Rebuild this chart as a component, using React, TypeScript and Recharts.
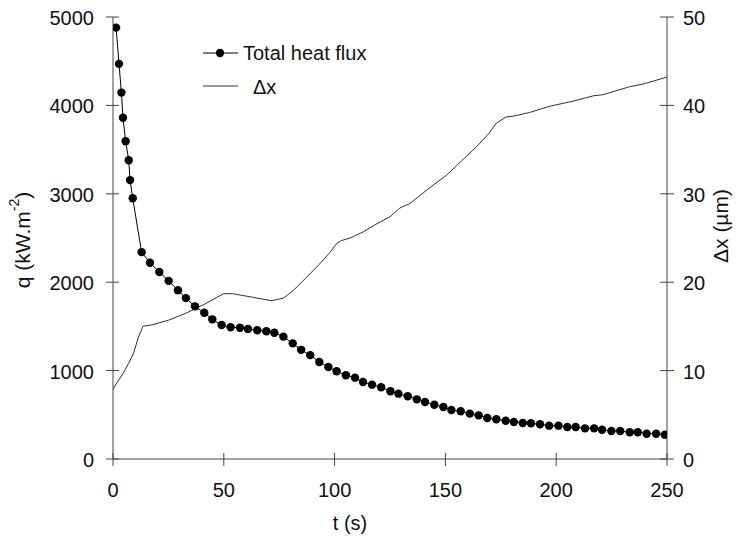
import React from 'react';
import { LineChart, Line, XAxis, YAxis } from 'recharts';

// Total heat flux (t in s, q in kW.m-2)
const fluxT = [1.4, 2.7, 3.8, 4.5, 5.7, 7.1, 7.7, 8.9, 12.9, 16.7, 20.9, 25.1, 29.3, 32.9, 37.0, 41.2, 44.8, 49.0, 53.1, 57.3, 60.9, 65.1, 69.2, 72.8, 76.9, 81.1, 84.9, 89.0, 93.1, 97.2, 100.9, 105.1, 109.2, 112.8, 116.9, 121.0, 125.2, 128.8, 133.0, 137.1, 140.8, 145.0, 149.1, 152.7, 156.9, 161.0, 165.0, 168.9, 173.0, 177.2, 180.9, 184.9, 188.6, 192.7, 196.8, 201.0, 205.0, 208.8, 213.0, 217.1, 220.7, 224.9, 228.9, 233.2, 236.8, 240.8, 245.1, 249.0];
const fluxQ = [4880, 4470, 4145, 3860, 3595, 3380, 3155, 2950, 2340, 2220, 2115, 2015, 1910, 1820, 1727, 1655, 1580, 1516, 1490, 1485, 1471, 1456, 1445, 1429, 1384, 1308, 1235, 1175, 1097, 1040, 992, 947, 920, 871, 841, 811, 766, 739, 709, 675, 645, 614, 588, 554, 540, 513, 494, 464, 449, 433, 419, 407, 404, 393, 377, 377, 362, 362, 347, 347, 331, 317, 317, 302, 302, 286, 286, 275];

// Delta x (t in s, dx in micrometres)
const dxT = [0, 1.7, 4.6, 7, 9.2, 11.5, 13.5, 18, 25, 33, 42, 47, 50, 54, 63, 71.5, 77, 81.5, 87.5, 93, 98, 101, 103, 107, 113, 119, 125, 129.5, 134, 143, 150.5, 158, 164, 169.5, 173, 177.5, 181, 188, 197, 208, 217, 221, 233, 239, 250];
const dxV = [7.9, 8.6, 9.7, 10.8, 11.9, 13.8, 15.0, 15.2, 15.7, 16.5, 17.6, 18.3, 18.7, 18.7, 18.3, 17.9, 18.2, 19.1, 20.6, 22.0, 23.4, 24.4, 24.7, 25.0, 25.7, 26.6, 27.4, 28.4, 28.9, 30.7, 32.1, 33.9, 35.3, 36.8, 38.0, 38.7, 38.8, 39.2, 39.9, 40.5, 41.1, 41.2, 42.1, 42.4, 43.2];

const xTicks = [0, 50, 100, 150, 200, 250];
const qTicks = [0, 1000, 2000, 3000, 4000, 5000];
const dxTicks = [0, 10, 20, 30, 40, 50];

const seriesNames = ['Total heat flux', 'Δx'];

const fluxData = fluxT.map((t, i) => ({ t, q: fluxQ[i] }));
const dxData = dxT.map((t, i) => ({ t, dx: dxV[i] }));

const W = 740;
const H = 542;
const LEFT_W = 113;
const RIGHT_W = 73;
const TOP = 17;
const XAXIS_H = 83;
const PL = LEFT_W;
const PR = W - RIGHT_W;
const PB = H - XAXIS_H;

const FONT = '"Liberation Sans", Arial, sans-serif';
const AXIS_COLOR = '#444';
const TEXT_COLOR = '#111';

const LeftTick = (props: any) => {
  const { y, payload } = props;
  return (
    <g>
      <line x1={PL - 7} x2={PL + 6} y1={y} y2={y} stroke={AXIS_COLOR} strokeWidth={1} />
      <text x={PL - 19} y={y + 1} textAnchor="end" dominantBaseline="central" fontSize={20} fontFamily={FONT} fill={TEXT_COLOR}>
        {payload.value}
      </text>
    </g>
  );
};

const RightTick = (props: any) => {
  const { y, payload } = props;
  return (
    <g>
      <line x1={PR - 7} x2={PR + 7} y1={y} y2={y} stroke={AXIS_COLOR} strokeWidth={1} />
      <text x={PR + 16} y={y + 1} textAnchor="start" dominantBaseline="central" fontSize={20} fontFamily={FONT} fill={TEXT_COLOR}>
        {payload.value}
      </text>
    </g>
  );
};

const BottomTick = (props: any) => {
  const { x, payload } = props;
  return (
    <g>
      <line x1={x} x2={x} y1={PB - 6} y2={PB + 7} stroke={AXIS_COLOR} strokeWidth={1} />
      <text x={x} y={PB + 31} textAnchor="middle" dominantBaseline="central" fontSize={20} fontFamily={FONT} fill={TEXT_COLOR}>
        {payload.value}
      </text>
    </g>
  );
};

const LeftLabel = () => (
  <text
    x={22}
    y={240}
    transform="rotate(-90 22 240)"
    textAnchor="middle"
    dominantBaseline="central"
    fontSize={21}
    fontFamily={FONT}
    fill={TEXT_COLOR}
  >
    q (kW.m<tspan dy={-8} fontSize={14}>-2</tspan>
    <tspan dy={8}>)</tspan>
  </text>
);

const RightLabel = () => (
  <text
    x={720}
    y={226}
    transform="rotate(-90 720 226)"
    textAnchor="middle"
    dominantBaseline="central"
    fontSize={21}
    fontFamily={FONT}
    fill={TEXT_COLOR}
  >
    Δx (µm)
  </text>
);

const BottomLabel = () => (
  <text x={(PL + PR) / 2 - 40} y={PB + 64} textAnchor="middle" dominantBaseline="central" fontSize={20} fontFamily={FONT} fill={TEXT_COLOR}>
    t (s)
  </text>
);

const LegendBox = () => (
  <svg width={200} height={60} style={{ position: 'absolute', left: 200, top: 41, display: 'block' }}>
    <line x1={3} x2={38} y1={12} y2={12} stroke="#000" strokeWidth={1} />
    <circle cx={20} cy={12} r={4.2} fill="#000" />
    <text x={43} y={12} dominantBaseline="central" fontSize={20} fontFamily={FONT} fill={TEXT_COLOR}>
      {seriesNames[0]}
    </text>
    <line x1={3} x2={38} y1={45} y2={45} stroke="#333" strokeWidth={1} />
    <text x={53} y={46} dominantBaseline="central" fontSize={20} fontFamily={FONT} fill={TEXT_COLOR}>
      {seriesNames[1]}
    </text>
  </svg>
);

export default function App() {
  return (
    <div style={{ position: 'absolute', left: 0, top: 0, width: W, height: H, background: '#fff' }}>
      <LineChart width={W} height={H} margin={{ top: TOP, right: 0, bottom: 0, left: 0 }}>
        <XAxis
          type="number"
          dataKey="t"
          domain={[0, 250]}
          ticks={xTicks}
          height={XAXIS_H}
          tickLine={false}
          tick={<BottomTick />}
          axisLine={{ stroke: AXIS_COLOR, strokeWidth: 1 }}
          label={<BottomLabel />}
          allowDataOverflow
        />
        <YAxis
          yAxisId="left"
          orientation="left"
          type="number"
          domain={[0, 5000]}
          ticks={qTicks}
          width={LEFT_W}
          tickLine={false}
          tick={<LeftTick />}
          axisLine={{ stroke: AXIS_COLOR, strokeWidth: 1 }}
          label={<LeftLabel />}
        />
        <YAxis
          yAxisId="right"
          orientation="right"
          type="number"
          domain={[0, 50]}
          ticks={dxTicks}
          width={RIGHT_W}
          tickLine={false}
          tick={<RightTick />}
          axisLine={{ stroke: AXIS_COLOR, strokeWidth: 1 }}
          label={<RightLabel />}
        />
        <Line
          yAxisId="right"
          data={dxData}
          dataKey="dx"
          type="linear"
          stroke="#333"
          strokeWidth={1}
          dot={false}
          isAnimationActive={false}
          name={seriesNames[1]}
        />
        <Line
          yAxisId="left"
          data={fluxData}
          dataKey="q"
          type="linear"
          stroke="#000"
          strokeWidth={1}
          dot={{ r: 4.2, fill: '#000', stroke: '#000', strokeWidth: 0 }}
          isAnimationActive={false}
          name={seriesNames[0]}
        />
      </LineChart>
      <LegendBox />
    </div>
  );
}
